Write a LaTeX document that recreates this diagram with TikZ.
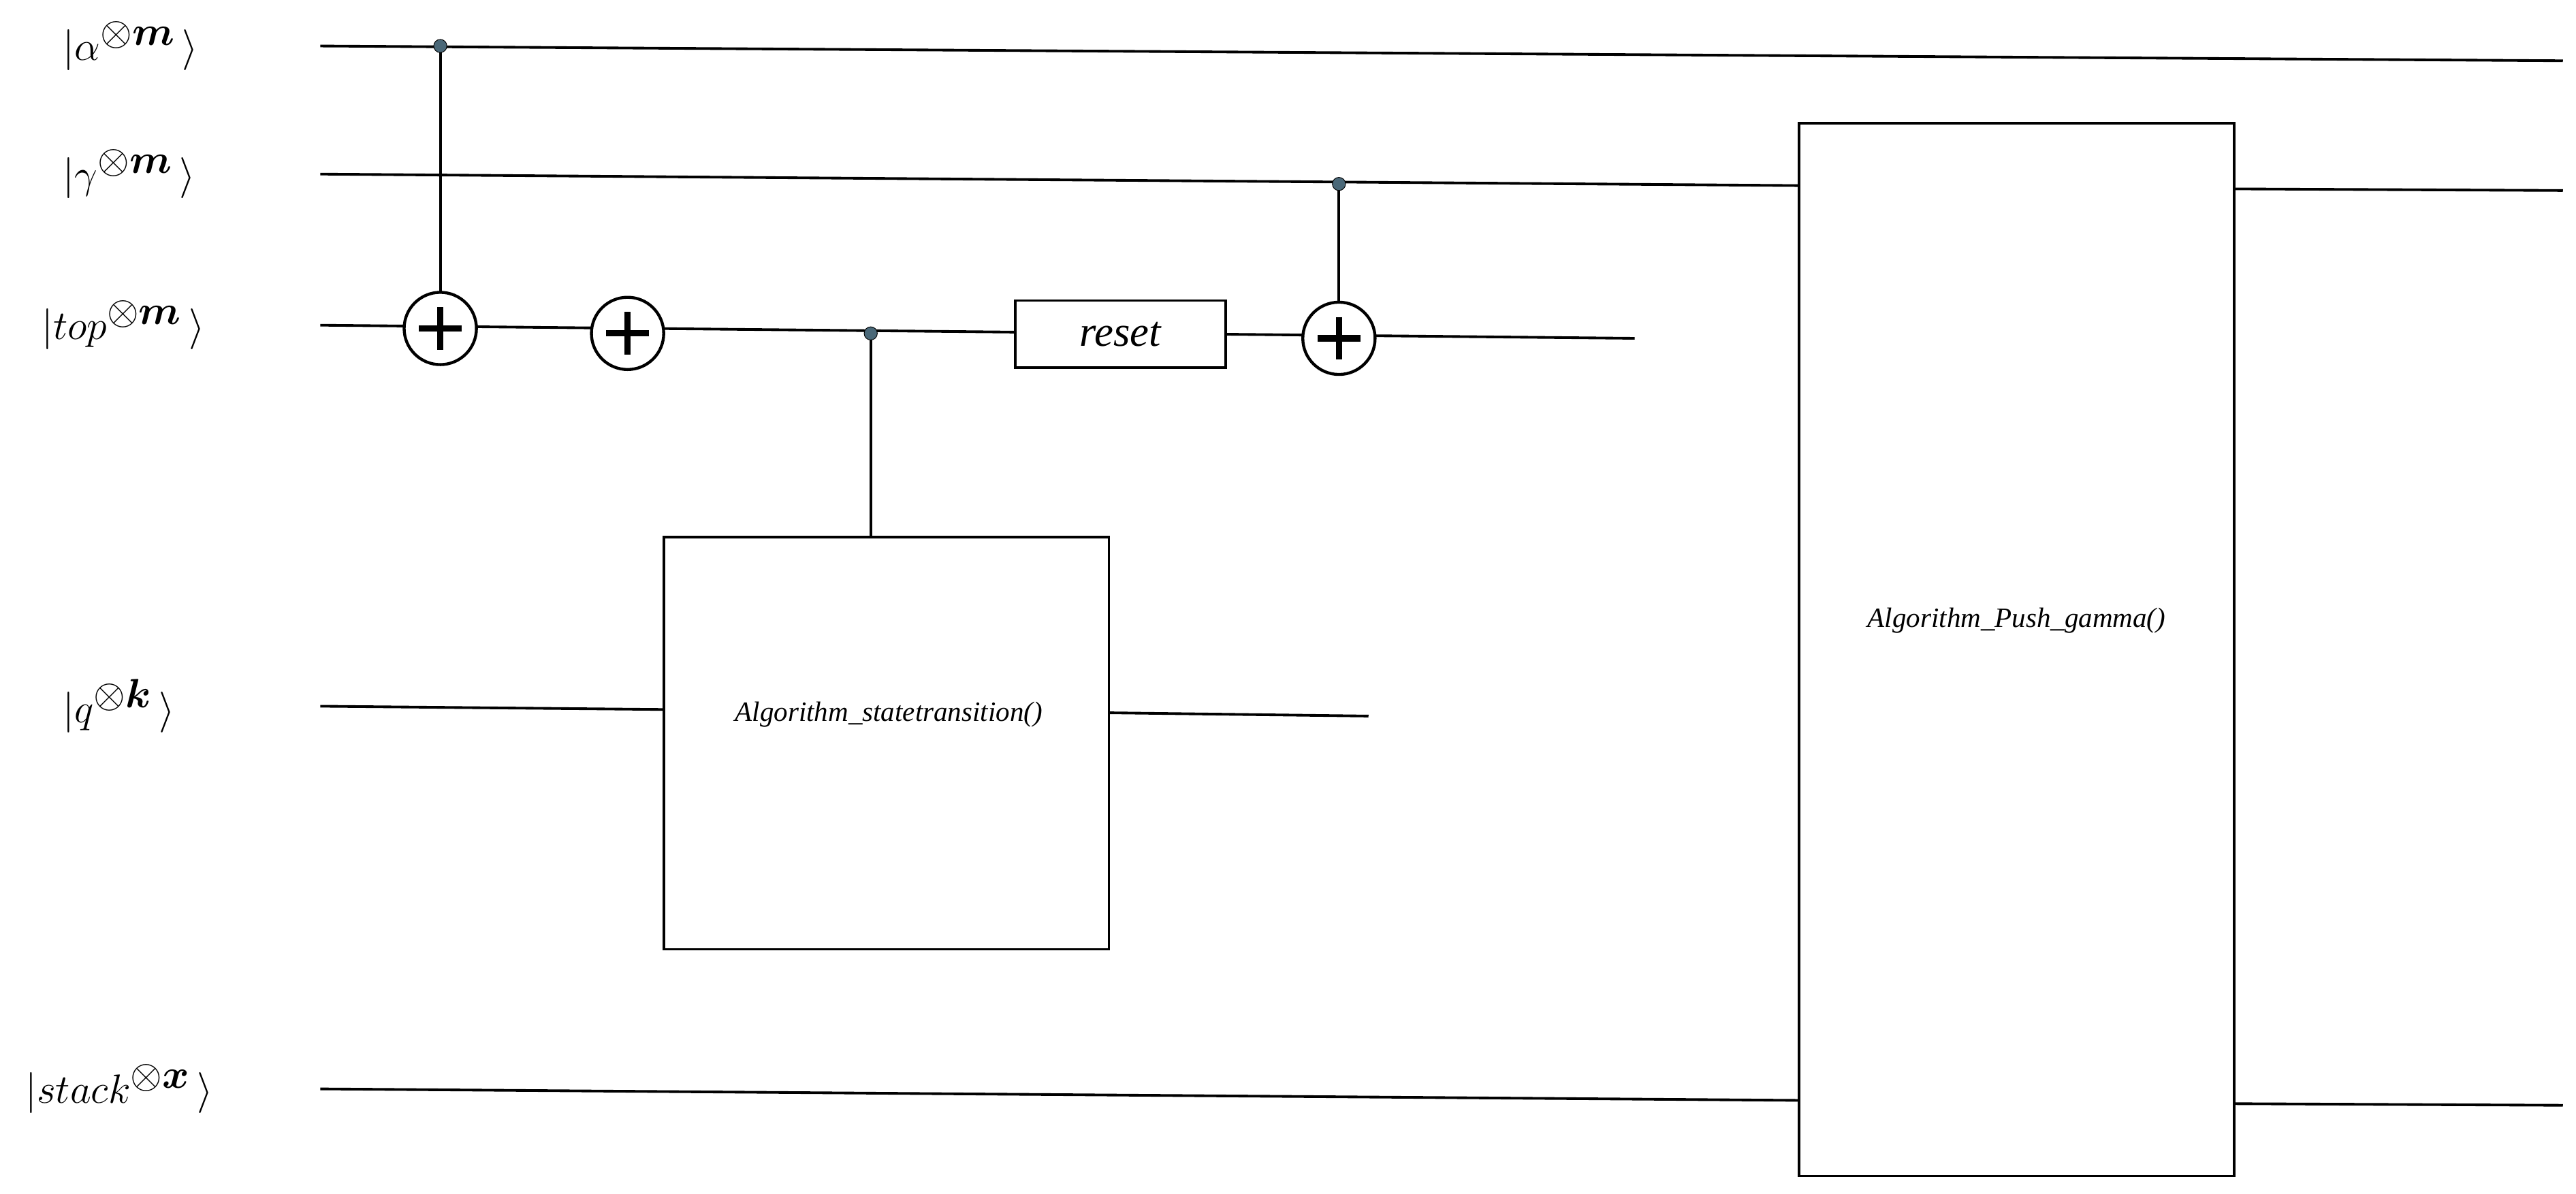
\documentclass[tikz,border=0pt]{standalone}
\usepackage{fontspec}
\usepackage{amsmath,bm}
\setmainfont{Liberation Serif}
\begin{document}
\begin{tikzpicture}[x=1pt,y=-1pt,
  wire/.style={line width=1.6pt},
  box/.style={draw,line width=1.6pt,fill=white,inner sep=0pt},
  ctrl/.style={ellipse,fill=cyan!40!black,draw=black,line width=0.4pt,minimum width=10pt,minimum height=7pt,inner sep=0pt},
  oplus/.style={circle,draw,line width=1.8pt,minimum size=44pt,inner sep=0pt,fill=white,path picture={\draw[line width=3.8pt] (path picture bounding box.north)++(0,-9pt) -- ++(0,-26pt); \draw[line width=3.8pt] (path picture bounding box.west)++(9pt,0) -- ++(26pt,0);}},
  lab/.style={anchor=west,font=\fontsize{34}{38}\selectfont},
  btxt/.style={font=\itshape\fontsize{17}{20}\selectfont}]
\useasboundingbox (0,0) rectangle (1568,727);
% labels
\node[lab] (la) at (35,28) {$|\alpha^{\otimes\bm{m}}\,\rangle$};
\node[lab] (lg) at (35,106) {$|\gamma^{\otimes\bm{m}}\,\rangle$};
\node[lab] (lt) at (22,198) {$|top^{\otimes\bm{m}}\,\rangle$};
\node[lab] (lq) at (35,430) {$|q^{\otimes\bm{k}}\,\rangle$};
\node[lab] (ls) at (12,663) {$|stack^{\otimes\bm{x}}\,\rangle$};
% wire endpoints
\coordinate (a0) at (195,28); \coordinate (a1) at (1560,37);
\coordinate (g0) at (195,106); \coordinate (g1) at (1095,113); \coordinate (g2) at (1360,115); \coordinate (g3) at (1560,116);
\coordinate (t0) at (195,198); \coordinate (t1) at (995,206);
\coordinate (q0) at (195,430); \coordinate (q1) at (404,432); \coordinate (q2) at (675,434); \coordinate (q3) at (833,436);
\coordinate (s0) at (195,663); \coordinate (s1) at (1095,670); \coordinate (s2) at (1360,672); \coordinate (s3) at (1560,673);
\draw[wire] (a0) -- (a1);
\draw[wire] (g0) -- (g1); \draw[wire] (g2) -- (g3);
\draw[wire] (t0) -- (t1);
\draw[wire] (q0) -- (q1); \draw[wire] (q2) -- (q3);
\draw[wire] (s0) -- (s1); \draw[wire] (s2) -- (s3);
% boxes
\node[box,minimum width=265pt,minimum height=641pt] (push) at (1227.5,395.5) {};
\node[btxt] (pusht) at (1227.5,378) {Algorithm\_Push\_gamma()};
\node[box,minimum width=271pt,minimum height=251pt] (st) at (539.5,452.5) {};
\node[btxt] (stt) at (541,435) {Algorithm\_statetransition()};
\node[box,minimum width=128pt,minimum height=41pt,font=\itshape\fontsize{26}{30}\selectfont] (reset) at (682,203.5) {reset};
% gates
\coordinate (c1) at (268,28);
\coordinate (c2) at (530,203);
\coordinate (c3) at (815,112);
\draw[wire] (c1) -- (268,178);
\draw[wire] (c2) -- (st.north -| c2);
\draw[wire] (c3) -- (815,184);
\node[oplus] (x1) at (268,200) {};
\node[oplus] (x2) at (382,203) {};
\node[oplus] (x3) at (815,206) {};
\node[circle,fill=cyan!40!black,draw=black,line width=0.4pt,minimum size=8pt,inner sep=0pt] (d1) at (c1) {};
\node[circle,fill=cyan!40!black,draw=black,line width=0.4pt,minimum size=8pt,inner sep=0pt] (d2) at (c2) {};
\node[circle,fill=cyan!40!black,draw=black,line width=0.4pt,minimum size=8pt,inner sep=0pt] (d3) at (c3) {};
\end{tikzpicture}
\end{document}
